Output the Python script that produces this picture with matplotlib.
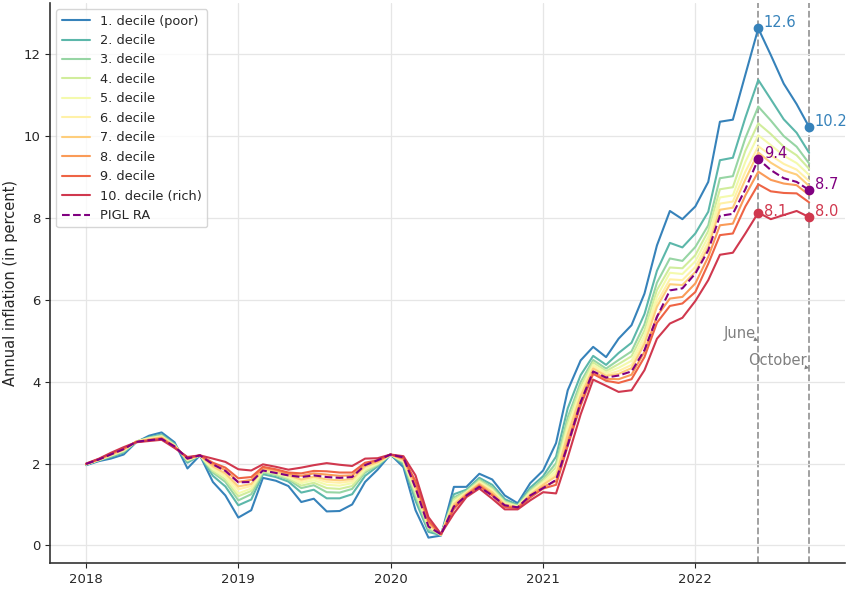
import matplotlib as mpl

mpl.use("Agg")

import matplotlib.dates as mdates
import matplotlib.pyplot as plt
import pandas as pd
import seaborn as sns

sns.set_style("ticks")
plt.rcParams["font.family"] = ["DejaVu Sans"]

months = pd.date_range("2018-01-01", "2022-10-01", freq="MS")

# annual inflation per income decile, monthly Jan 2018 .. Oct 2022
decile_1 = [1.96, 2.06, 2.12, 2.22, 2.52, 2.68, 2.76, 2.52, 1.88, 2.20, 1.55, 1.22,
            0.68, 0.86, 1.65, 1.58, 1.45, 1.06, 1.14, 0.83, 0.84, 1.00, 1.55, 1.85,
            2.22, 1.91, 0.86, 0.19, 0.24, 1.43, 1.43, 1.75, 1.61, 1.22, 1.03, 1.52,
            1.83, 2.50, 3.79, 4.52, 4.85, 4.60, 5.05, 5.38, 6.15, 7.33, 8.17, 7.97,
            8.28, 8.88, 10.35, 10.40, 11.50, 12.63, 11.98, 11.28, 10.78, 10.22]
decile_2 = [1.97, 2.08, 2.16, 2.27, 2.53, 2.64, 2.71, 2.48, 2.02, 2.20, 1.70, 1.44,
            0.98, 1.12, 1.74, 1.67, 1.56, 1.29, 1.36, 1.15, 1.15, 1.25, 1.70, 1.93,
            2.22, 1.98, 1.09, 0.33, 0.25, 1.25, 1.36, 1.65, 1.48, 1.13, 0.99, 1.41,
            1.69, 2.17, 3.35, 4.16, 4.63, 4.41, 4.70, 4.95, 5.65, 6.71, 7.39, 7.28,
            7.62, 8.15, 9.41, 9.47, 10.45, 11.37, 10.90, 10.41, 10.08, 9.59]
decile_3 = [1.98, 2.08, 2.18, 2.29, 2.53, 2.63, 2.69, 2.46, 2.06, 2.20, 1.78, 1.55,
            1.10, 1.25, 1.78, 1.72, 1.61, 1.40, 1.47, 1.30, 1.29, 1.38, 1.78, 1.96,
            2.22, 2.02, 1.20, 0.39, 0.26, 1.17, 1.33, 1.61, 1.42, 1.08, 0.97, 1.35,
            1.62, 2.01, 3.13, 3.99, 4.53, 4.32, 4.53, 4.74, 5.40, 6.42, 7.01, 6.95,
            7.29, 7.82, 8.97, 9.02, 9.95, 10.72, 10.38, 10.00, 9.74, 9.33]
decile_4 = [1.98, 2.09, 2.19, 2.31, 2.54, 2.62, 2.67, 2.45, 2.08, 2.20, 1.82, 1.61,
            1.20, 1.33, 1.81, 1.74, 1.64, 1.46, 1.53, 1.40, 1.38, 1.45, 1.82, 1.98,
            2.22, 2.04, 1.27, 0.43, 0.26, 1.12, 1.31, 1.58, 1.38, 1.06, 0.96, 1.32,
            1.58, 1.91, 3.00, 3.89, 4.47, 4.26, 4.43, 4.62, 5.25, 6.24, 6.79, 6.77,
            7.09, 7.68, 8.70, 8.75, 9.64, 10.31, 10.05, 9.74, 9.53, 9.20]
decile_5 = [1.98, 2.09, 2.20, 2.32, 2.54, 2.61, 2.66, 2.44, 2.09, 2.20, 1.86, 1.67,
            1.27, 1.39, 1.83, 1.77, 1.67, 1.52, 1.59, 1.48, 1.46, 1.52, 1.86, 2.00,
            2.22, 2.06, 1.33, 0.47, 0.26, 1.07, 1.29, 1.55, 1.35, 1.03, 0.95, 1.29,
            1.54, 1.82, 2.89, 3.79, 4.41, 4.22, 4.34, 4.51, 5.12, 6.08, 6.66, 6.63,
            6.94, 7.54, 8.50, 8.55, 9.37, 10.02, 9.78, 9.52, 9.34, 9.05]
decile_6 = [1.98, 2.10, 2.21, 2.33, 2.54, 2.60, 2.65, 2.43, 2.10, 2.20, 1.90, 1.72,
            1.37, 1.45, 1.85, 1.79, 1.69, 1.57, 1.64, 1.55, 1.53, 1.57, 1.90, 2.02,
            2.22, 2.07, 1.38, 0.50, 0.26, 1.03, 1.28, 1.53, 1.32, 1.01, 0.94, 1.26,
            1.51, 1.75, 2.79, 3.71, 4.36, 4.17, 4.26, 4.41, 5.01, 5.94, 6.50, 6.48,
            6.80, 7.41, 8.35, 8.40, 9.13, 9.75, 9.53, 9.32, 9.18, 8.90]
decile_7 = [1.99, 2.10, 2.21, 2.34, 2.53, 2.59, 2.64, 2.43, 2.11, 2.20, 1.93, 1.76,
            1.44, 1.50, 1.87, 1.80, 1.71, 1.61, 1.68, 1.61, 1.59, 1.62, 1.93, 2.03,
            2.22, 2.09, 1.42, 0.52, 0.27, 1.00, 1.27, 1.51, 1.30, 1.00, 0.93, 1.24,
            1.48, 1.69, 2.71, 3.65, 4.32, 4.14, 4.19, 4.33, 4.92, 5.83, 6.38, 6.36,
            6.68, 7.29, 8.20, 8.25, 8.94, 9.60, 9.35, 9.16, 9.06, 8.78]
decile_8 = [1.99, 2.11, 2.23, 2.36, 2.53, 2.58, 2.62, 2.41, 2.13, 2.20, 1.98, 1.84,
            1.55, 1.60, 1.90, 1.84, 1.75, 1.70, 1.76, 1.73, 1.70, 1.71, 1.98, 2.06,
            2.22, 2.12, 1.51, 0.57, 0.27, 0.94, 1.24, 1.48, 1.25, 0.96, 0.92, 1.20,
            1.43, 1.57, 2.54, 3.52, 4.24, 4.07, 4.06, 4.17, 4.73, 5.60, 6.03, 6.07,
            6.40, 7.05, 7.82, 7.86, 8.55, 9.13, 8.93, 8.84, 8.80, 8.56]
decile_9 = [1.99, 2.11, 2.24, 2.37, 2.52, 2.57, 2.61, 2.40, 2.14, 2.20, 2.02, 1.90,
            1.64, 1.67, 1.92, 1.86, 1.78, 1.76, 1.82, 1.81, 1.78, 1.78, 2.02, 2.08,
            2.22, 2.13, 1.57, 0.61, 0.27, 0.89, 1.22, 1.45, 1.22, 0.94, 0.91, 1.17,
            1.39, 1.48, 2.43, 3.42, 4.19, 4.02, 3.97, 4.06, 4.60, 5.44, 5.85, 5.91,
            6.19, 6.88, 7.58, 7.62, 8.28, 8.82, 8.65, 8.61, 8.60, 8.38]
decile_10 = [2.00, 2.12, 2.26, 2.40, 2.52, 2.55, 2.58, 2.38, 2.16, 2.20, 2.12, 2.04,
             1.86, 1.83, 1.98, 1.92, 1.85, 1.90, 1.96, 2.01, 1.97, 1.94, 2.12, 2.13,
             2.22, 2.18, 1.71, 0.69, 0.28, 0.78, 1.18, 1.39, 1.14, 0.88, 0.88, 1.10,
             1.30, 1.27, 2.15, 3.20, 4.05, 3.90, 3.75, 3.79, 4.28, 5.05, 5.42, 5.56,
             5.97, 6.48, 7.10, 7.15, 7.62, 8.13, 7.97, 8.07, 8.17, 8.02]
pigl_ra = [1.99, 2.10, 2.22, 2.35, 2.53, 2.57, 2.60, 2.42, 2.12, 2.20, 1.98, 1.82,
           1.54, 1.55, 1.83, 1.77, 1.71, 1.67, 1.71, 1.67, 1.65, 1.67, 1.96, 2.08,
           2.22, 2.15, 1.40, 0.46, 0.27, 0.95, 1.22, 1.43, 1.22, 0.98, 0.93, 1.22,
           1.40, 1.60, 2.45, 3.50, 4.25, 4.10, 4.15, 4.25, 4.77, 5.58, 6.23, 6.28,
           6.64, 7.21, 8.05, 8.10, 8.70, 9.44, 9.17, 8.97, 8.88, 8.68]

decile_labels = ["1. decile (poor)", "2. decile", "3. decile", "4. decile", "5. decile",
                 "6. decile", "7. decile", "8. decile", "9. decile", "10. decile (rich)"]
deciles = [decile_1, decile_2, decile_3, decile_4, decile_5,
           decile_6, decile_7, decile_8, decile_9, decile_10]

marked_months = [pd.Timestamp("2022-06-01"), pd.Timestamp("2022-10-01")]
marked_names = ["June", "October"]
marked_name_y = [5.0, 4.33]

colors = sns.color_palette("Spectral_r", 10)

fig = plt.figure(figsize=(8.47, 5.89), dpi=100)
ax = fig.add_axes([0.059, 0.044, 0.939, 0.951])

for values, label, color in zip(deciles, decile_labels, colors):
    ax.plot(months, values, color=color, lw=1.5, label=label)
ax.plot(months, pigl_ra, color="purple", lw=1.5, ls="--", label="PIGL RA")

for m, name, ny in zip(marked_months, marked_names, marked_name_y):
    ax.axvline(m, color="gray", ls="--", lw=1.3, alpha=0.8, zorder=0)
    ax.annotate(name, xy=(m, ny), xytext=(-2, 0), textcoords="offset points",
                ha="right", va="bottom", fontsize=10.5, color="gray",
                arrowprops=dict(arrowstyle="-|>", color="gray", lw=0, mutation_scale=8,
                                shrinkA=0, shrinkB=0))

series = pd.DataFrame({"d1": decile_1, "d10": decile_10, "pigl": pigl_ra}, index=months)
mark_colors = {"d1": colors[0], "pigl": "purple", "d10": colors[9]}
for key, color in mark_colors.items():
    for m in marked_months:
        v = series.loc[m, key]
        lift = 1 if (key == "d10" and m == marked_months[0]) else 4
        ax.plot([m], [v], marker="o", ms=6, color=color, zorder=5)
        ax.annotate(f"{v:.1f}", xy=(m, v), xytext=(4, lift), textcoords="offset points",
                    ha="left", va="center", fontsize=10.5, color=color)

ax.set_ylabel("Annual inflation (in percent)", fontsize=10.5)
ax.xaxis.set_major_locator(mdates.YearLocator())
ax.xaxis.set_major_formatter(mdates.DateFormatter("%Y"))
ax.tick_params(labelsize=9.5)
ax.grid(True, color="#e6e6e6", lw=0.9)
ax.set_axisbelow(True)
for side in ["top", "right"]:
    ax.spines[side].set_visible(False)
for side in ["left", "bottom"]:
    ax.spines[side].set_color("#333333")
    ax.spines[side].set_linewidth(1.2)

ax.legend(loc="upper left", fontsize=9.3, frameon=True, handlelength=2.2)

fig.savefig("out.png", dpi=100)
